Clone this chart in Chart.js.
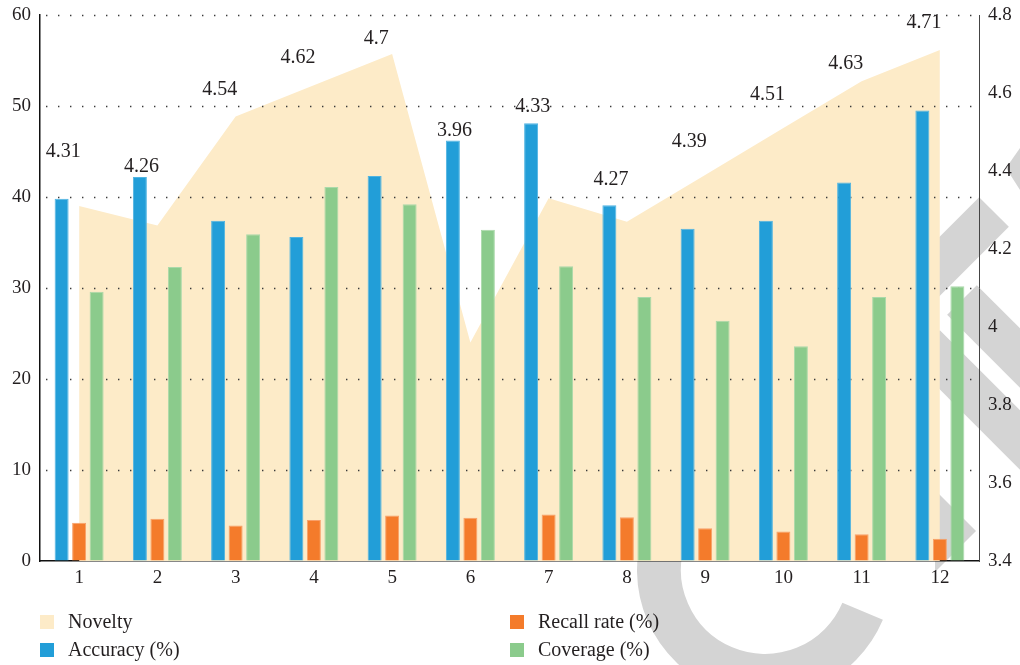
<!DOCTYPE html>
<html>
<head>
<meta charset="utf-8">
<script src="https://cdn.jsdelivr.net/npm/chart.js@4.4.0/dist/chart.umd.min.js"></script>
<style>
  html, body { margin: 0; padding: 0; background: #fff; }
  .wrap { position: relative; width: 1020px; height: 665px; }
  #chart { position: absolute; left: 0; top: 0; }
  .legend { position: absolute; font-family: "Liberation Serif", "DejaVu Serif", serif; font-size: 20px; color: #231f20; }
  .legend .item { position: absolute; white-space: nowrap; height: 28px; line-height: 28px; }
  .legend .sw { position: absolute; left: 0; top: 7px; width: 14px; height: 14px; }
  .legend .tx { position: absolute; left: 28px; top: -1px; }
</style>
</head>
<body>
<div class="wrap">
  <canvas id="chart" width="1020" height="665"></canvas>
  <div class="legend" id="legend"></div>
</div>
<script>
const categories = ['1', '2', '3', '4', '5', '6', '7', '8', '9', '10', '11', '12'];
const novelty = [4.31, 4.26, 4.54, 4.62, 4.7, 3.96, 4.33, 4.27, 4.39, 4.51, 4.63, 4.71];
const accuracy = [39.8, 42.2, 37.4, 35.6, 42.3, 46.2, 48.1, 39.1, 36.5, 37.4, 41.6, 49.5];
const recall = [4.2, 4.65, 3.9, 4.5, 5.0, 4.75, 5.1, 4.8, 3.6, 3.25, 2.95, 2.45];
const coverage = [29.6, 32.3, 35.9, 41.1, 39.2, 36.4, 32.4, 29.0, 26.4, 23.6, 29.0, 30.2];
const leftTicks = [0, 10, 20, 30, 40, 50, 60];
const rightTicks = [3.4, 3.6, 3.8, 4.0, 4.2, 4.4, 4.6, 4.8];

const COLORS = {
  novelty: '#FDEBC8',
  accuracy: '#229ED8',
  recall: '#F47B2B',
  coverage: '#8BCB8C'
};
const FONT = '"Liberation Serif", "DejaVu Serif", serif';
const INK = '#231f20';

// how far each novelty label sits above the taller of its area point / blue bar
const labelLift = [47, 10, 27, 27, 15, 10, 17, 25, 33, 33, 18, 27];

// faint grey logo stroked behind everything
const backdrop = {
  id: 'backdrop',
  beforeDraw(chart) {
    const ctx = chart.ctx;
    ctx.save();
    ctx.strokeStyle = '#d4d4d4';
    ctx.fillStyle = '#d4d4d4';
    ctx.lineCap = 'butt';
    ctx.lineWidth = 42;
    const band = (x1, y1, x2, y2) => {
      ctx.beginPath();
      ctx.moveTo(x1, y1);
      ctx.lineTo(x2, y2);
      ctx.stroke();
    };
    band(994, 212, 880, 326);
    band(962, 300, 1060, 398);
    band(925, 345, 1060, 480);
    ctx.beginPath();
    ctx.moveTo(1020, 148);
    ctx.lineTo(1006, 168);
    ctx.lineTo(1020, 190);
    ctx.closePath();
    ctx.fill();
    ctx.beginPath();
    ctx.moveTo(935, 490);
    ctx.lineTo(976, 531);
    ctx.lineTo(935, 572);
    ctx.closePath();
    ctx.fill();
    ctx.lineWidth = 44;
    ctx.beginPath();
    ctx.arc(765, 570, 106, 0.4, Math.PI + 0.35);
    ctx.stroke();
    ctx.restore();
  }
};

// dotted grid drawn over the novelty area, under the bars
const dottedGrid = {
  id: 'dottedGrid',
  afterDatasetDraw(chart, args) {
    if (args.index !== 0) return;
    const { ctx, chartArea } = chart;
    const y = chart.scales.y;
    ctx.save();
    ctx.strokeStyle = '#3a3a3a';
    ctx.lineWidth = 1.3;
    ctx.setLineDash([1.4, 10.6]);
    leftTicks.forEach(v => {
      if (v === 0) return;
      const py = Math.round(y.getPixelForValue(v)) + 0.5;
      ctx.beginPath();
      ctx.moveTo(chartArea.left + 6, py);
      ctx.lineTo(chartArea.right, py);
      ctx.stroke();
    });
    ctx.restore();
  }
};

// value labels for the novelty series
const noveltyLabels = {
  id: 'noveltyLabels',
  afterDatasetsDraw(chart) {
    const { ctx } = chart;
    const x = chart.scales.x, y = chart.scales.y, y2 = chart.scales.y2;
    ctx.save();
    ctx.font = '20px ' + FONT;
    ctx.fillStyle = INK;
    ctx.textAlign = 'center';
    ctx.textBaseline = 'middle';
    novelty.forEach((v, i) => {
      const px = x.getPixelForValue(i);
      const anchor = Math.min(y2.getPixelForValue(v), y.getPixelForValue(accuracy[i]));
      ctx.fillText(String(v), px - 16, anchor - labelLift[i]);
    });
    ctx.restore();
  }
};

const barStyle = {
  yAxisID: 'y',
  order: 1,
  categoryPercentage: 0.671,
  barPercentage: 0.8,
  borderWidth: { top: 1, left: 1, right: 1, bottom: 0 },
  borderSkipped: 'bottom'
};

// fixed axis sizes; tick labels may overhang the plot edges
const fixWidth = w => scale => {
  scale.width = w;
  scale.paddingTop = 0;
  scale.paddingBottom = 0;
};

const chart = new Chart(document.getElementById('chart'), {
  type: 'bar',
  data: {
    labels: categories,
    datasets: [
      {
        type: 'line',
        label: 'Novelty',
        data: novelty,
        yAxisID: 'y2',
        order: 5,
        fill: 'start',
        backgroundColor: COLORS.novelty,
        borderColor: 'transparent',
        borderWidth: 0,
        pointRadius: 0,
        tension: 0
      },
      Object.assign({ label: 'Accuracy (%)', data: accuracy, backgroundColor: COLORS.accuracy, borderColor: '#4fb4e2' }, barStyle),
      Object.assign({ label: 'Recall rate (%)', data: recall, backgroundColor: COLORS.recall, borderColor: '#f8a06a' }, barStyle),
      Object.assign({ label: 'Coverage (%)', data: coverage, backgroundColor: COLORS.coverage, borderColor: '#aad9aa' }, barStyle)
    ]
  },
  options: {
    responsive: false,
    animation: false,
    layout: { padding: { top: 15, left: 0, right: 0, bottom: 0 } },
    plugins: {
      legend: { display: false },
      tooltip: { enabled: false }
    },
    scales: {
      x: {
        grid: { display: true, drawOnChartArea: false, drawTicks: false },
        border: { display: true, color: '#111', width: 1.5 },
        ticks: { color: INK, font: { family: FONT, size: 19 }, padding: 6, maxRotation: 0 },
        afterFit(scale) {
          scale.height = 104;
          scale.paddingLeft = 0;
          scale.paddingRight = 0;
        }
      },
      y: {
        position: 'left',
        min: 0,
        max: 60,
        afterBuildTicks(scale) { scale.ticks = leftTicks.map(v => ({ value: v })); },
        grid: { display: true, drawOnChartArea: false, drawTicks: false },
        border: { display: true, color: '#111', width: 1.5 },
        ticks: { color: INK, font: { family: FONT, size: 19 }, padding: 9 },
        afterFit: fixWidth(40)
      },
      y2: {
        position: 'right',
        min: 3.4,
        max: 4.8,
        afterBuildTicks(scale) { scale.ticks = rightTicks.map(v => ({ value: v })); },
        grid: { display: true, drawOnChartArea: false, drawTicks: false },
        border: { display: true, color: '#444', width: 1 },
        ticks: {
          color: INK,
          font: { family: FONT, size: 19 },
          padding: 9,
          callback: v => String(+Number(v).toFixed(1))
        },
        afterFit: fixWidth(41)
      }
    }
  },
  plugins: [backdrop, dottedGrid, noveltyLabels]
});

// two-column legend under the plot
const legendItems = [
  { text: 'Novelty', color: COLORS.novelty, left: 40, top: 608 },
  { text: 'Recall rate (%)', color: COLORS.recall, left: 510, top: 608 },
  { text: 'Accuracy (%)', color: COLORS.accuracy, left: 40, top: 636 },
  { text: 'Coverage (%)', color: COLORS.coverage, left: 510, top: 636 }
];
const legendEl = document.getElementById('legend');
legendItems.forEach(it => {
  const d = document.createElement('div');
  d.className = 'item';
  d.style.left = it.left + 'px';
  d.style.top = it.top + 'px';
  d.innerHTML = '<span class="sw" style="background:' + it.color + '"></span><span class="tx">' + it.text + '</span>';
  legendEl.appendChild(d);
});
</script>
</body>
</html>
